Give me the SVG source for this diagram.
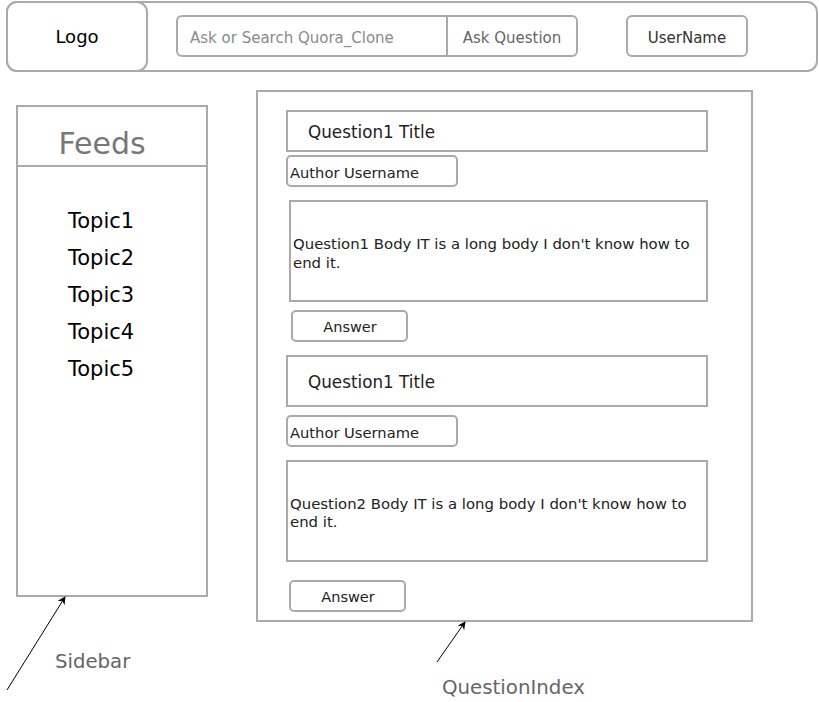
<svg xmlns="http://www.w3.org/2000/svg" width="819" height="702" viewBox="0 0 819 702">
<style>
.box{fill:#ffffff;stroke:#aaaaaa;stroke-width:2}
.t{font-family:"DejaVu Sans",Verdana,sans-serif;fill:#000}
.g{font-family:"DejaVu Sans",Verdana,sans-serif;fill:#666}
.ln{stroke:#000;stroke-width:1;fill:none}
</style>
<defs>
<marker id="ah" viewBox="0 0 10 10" refX="9" refY="5" markerWidth="8" markerHeight="8" orient="auto" markerUnits="userSpaceOnUse">
<path d="M0,0 L10,5 L0,10 L3,5 z" fill="#000"/>
</marker>
</defs>
<rect width="819" height="702" fill="#fff"/>
<g id="header">
<rect class="box" x="7" y="2" width="810" height="69" rx="10"/>
</g>
<g id="logo">
<rect class="box" x="7" y="2" width="140" height="69" rx="10"/>
<text class="t" x="77" y="43" font-size="18" text-anchor="middle">Logo</text>
</g>
<g id="search">
<rect class="box" x="177" y="16" width="400" height="40" rx="5"/>
<line x1="447" y1="16" x2="447" y2="56" stroke="#aaaaaa" stroke-width="2"/>
<text class="g" x="190" y="43" font-size="15" style="fill:#8a8a8a">Ask or Search Quora_Clone</text>
<text class="g" x="512" y="43" font-size="15" text-anchor="middle">Ask Question</text>
</g>
<g id="username">
<rect class="box" x="627" y="16" width="120" height="40" rx="5"/>
<text class="t" x="687" y="43" font-size="15" text-anchor="middle" style="fill:#333">UserName</text>
</g>
<g id="sidebar">
<rect class="box" x="17" y="106" width="190" height="490"/>
<line x1="17" y1="166" x2="207" y2="166" stroke="#aaaaaa" stroke-width="2"/>
<text class="g" x="102" y="154" font-size="30" text-anchor="middle" style="fill:#777">Feeds</text>
<text class="t" x="68" y="228" font-size="21">Topic1</text>
<text class="t" x="68" y="265" font-size="21">Topic2</text>
<text class="t" x="68" y="302" font-size="21">Topic3</text>
<text class="t" x="68" y="339" font-size="21">Topic4</text>
<text class="t" x="68" y="376" font-size="21">Topic5</text>
</g>
<g id="questionIndex">
<rect class="box" x="257" y="91" width="495" height="530"/>
</g>
<g id="q1title">
<rect class="box" x="287" y="111" width="420" height="40"/>
<text class="t" x="308" y="138" font-size="16.8" style="fill:#222">Question1 Title</text>
</g>
<g id="q1author">
<rect class="box" x="287" y="156" width="170" height="30" rx="4"/>
<text class="t" x="290" y="178" font-size="14.7" style="fill:#222">Author Username</text>
</g>
<g id="q1body">
<rect class="box" x="290" y="201" width="417" height="100"/>
<text class="t" x="293" y="249" font-size="14.9" style="fill:#222">Question1 Body IT is a long body I don't know how to</text>
<text class="t" x="293" y="268" font-size="14.9" style="fill:#222">end it.</text>
</g>
<g id="q1answer">
<rect class="box" x="292" y="311" width="115" height="30" rx="4"/>
<text class="t" x="350" y="332" font-size="14.5" text-anchor="middle" style="fill:#222">Answer</text>
</g>
<g id="q2title">
<rect class="box" x="287" y="356" width="420" height="50"/>
<text class="t" x="308" y="388" font-size="16.8" style="fill:#222">Question1 Title</text>
</g>
<g id="q2author">
<rect class="box" x="287" y="416" width="170" height="30" rx="4"/>
<text class="t" x="290" y="438" font-size="14.7" style="fill:#222">Author Username</text>
</g>
<g id="q2body">
<rect class="box" x="287" y="461" width="420" height="100"/>
<text class="t" x="290" y="509" font-size="14.9" style="fill:#222">Question2 Body IT is a long body I don't know how to</text>
<text class="t" x="290" y="527" font-size="14.9" style="fill:#222">end it.</text>
</g>
<g id="q2answer">
<rect class="box" x="290" y="581" width="115" height="30" rx="4"/>
<text class="t" x="348" y="602" font-size="14.5" text-anchor="middle" style="fill:#222">Answer</text>
</g>
<g id="labels">
<text class="g" x="55" y="668" font-size="19.7">Sidebar</text>
<text class="g" x="442" y="694" font-size="19.8">QuestionIndex</text>
</g>
<g id="connectors">
<line class="ln" x1="7" y1="690" x2="65" y2="597" marker-end="url(#ah)"/>
<line class="ln" x1="437" y1="662" x2="465" y2="622" marker-end="url(#ah)"/>
</g>
</svg>
